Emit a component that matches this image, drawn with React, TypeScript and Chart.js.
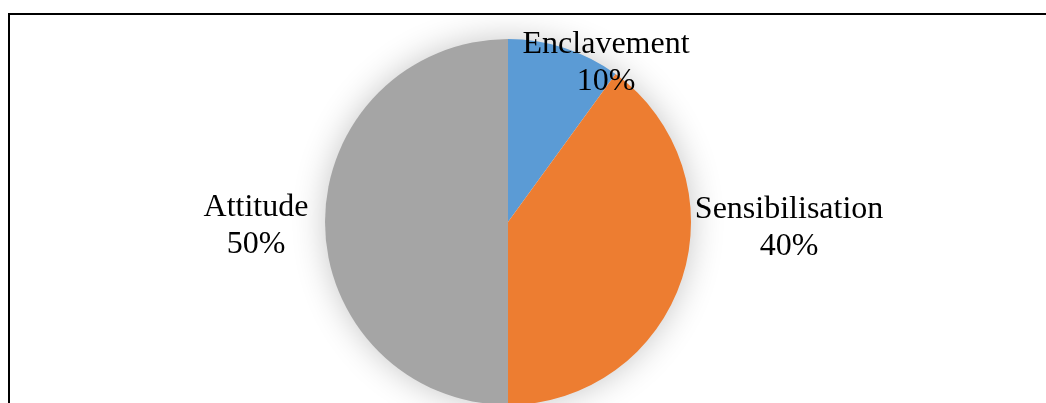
import React, { useEffect, useRef } from "react";
import { Chart, registerables } from "chart.js";

Chart.register(...registerables);

const categories = ["Enclavement", "Sensibilisation", "Attitude"];
const shares = [10, 40, 50];
const sliceColors = ["#5B9BD5", "#ED7D31", "#A5A5A5"];

// label block anchor (midpoint between the two text baselines), as fractions of the radius
const labelAnchors: [number, number][] = [
  [0.536, -0.825],
  [1.536, 0.077],
  [-1.377, 0.071],
];

const shadowPlugin = {
  id: "pieShadow",
  beforeDatasetsDraw(chart: any) {
    const meta = chart.getDatasetMeta(0);
    const arc = meta.data[0];
    if (!arc) return;
    const { x, y, outerRadius } = arc.getProps(["x", "y", "outerRadius"], true);
    const ctx = chart.ctx;
    ctx.save();
    ctx.shadowColor = "rgba(0,0,0,0.24)";
    ctx.shadowBlur = 34;
    ctx.shadowOffsetX = 0;
    ctx.shadowOffsetY = 0;
    ctx.beginPath();
    ctx.arc(x, y, outerRadius - 1, 0, Math.PI * 2);
    ctx.fillStyle = "#ffffff";
    ctx.fill();
    ctx.restore();
  },
};

const labelPlugin = {
  id: "sliceLabels",
  afterDatasetsDraw(chart: any) {
    const meta = chart.getDatasetMeta(0);
    const data = chart.data.datasets[0].data as number[];
    const total = data.reduce((a, b) => a + b, 0);
    const ctx = chart.ctx;
    ctx.save();
    ctx.font = "32px 'Liberation Serif', 'Times New Roman', serif";
    ctx.fillStyle = "#000000";
    ctx.textAlign = "center";
    ctx.textBaseline = "alphabetic";
    const half = 18.5;
    meta.data.forEach((el: any, i: number) => {
      const { x, y, outerRadius } = el.getProps(["x", "y", "outerRadius"], true);
      const [fx, fy] = labelAnchors[i];
      const ax = x + fx * outerRadius;
      const ay = y + fy * outerRadius;
      const pct = Math.round((data[i] / total) * 100) + "%";
      ctx.fillText(chart.data.labels[i], ax, ay - half);
      ctx.fillText(pct, ax, ay + half);
    });
    ctx.restore();
  },
};

export default function App() {
  const canvasRef = useRef<HTMLCanvasElement | null>(null);

  useEffect(() => {
    document.body.style.overflow = "hidden";
    const canvas = canvasRef.current;
    if (!canvas) return;
    const chart = new Chart(canvas, {
      type: "pie",
      data: {
        labels: categories,
        datasets: [
          {
            data: shares,
            backgroundColor: sliceColors,
            borderWidth: 0,
          },
        ],
      },
      options: {
        responsive: false,
        animation: false,
        layout: { padding: { top: 24, bottom: 24, left: 0, right: 40 } },
        plugins: {
          legend: { display: false },
          tooltip: { enabled: false },
        },
      },
      plugins: [shadowPlugin, labelPlugin],
    });
    return () => chart.destroy();
  }, []);

  return (
    <div
      style={{
        position: "absolute",
        left: 8,
        top: 13,
        width: 1038,
        height: 390,
        borderTop: "2px solid #000",
        borderLeft: "2px solid #000",
        boxSizing: "border-box",
        overflow: "hidden",
        background: "#fff",
      }}
    >
      <canvas
        ref={canvasRef}
        width={1036}
        height={414}
        style={{ display: "block", width: 1036, height: 414 }}
      />
    </div>
  );
}
